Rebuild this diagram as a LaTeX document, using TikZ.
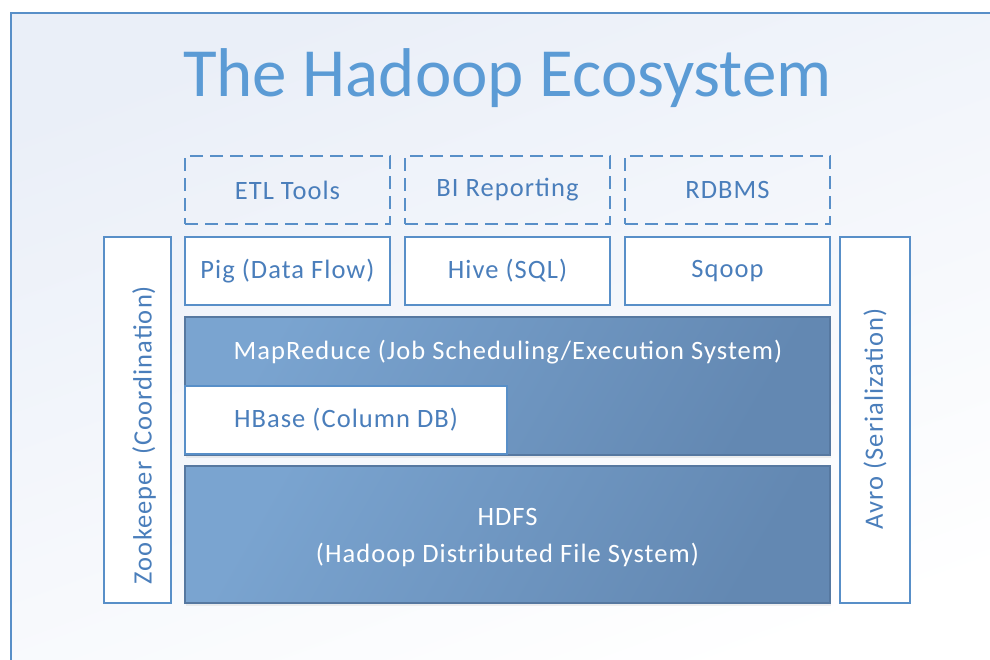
\documentclass[tikz,border=0pt]{standalone}
\usepackage{fontspec}
\setmainfont{Carlito}
\newfontfamily\boxfont[LetterSpace=4]{Carlito}
\usetikzlibrary{shadows}
\definecolor{frameblue}{RGB}{88,143,200}
\definecolor{titleblue}{RGB}{91,155,213}
\definecolor{textblue}{RGB}{74,126,187}
\definecolor{darkfillA}{RGB}{122,164,208}
\definecolor{darkfillB}{RGB}{99,136,178}
\definecolor{darkedge}{RGB}{86,120,160}
\definecolor{bgA}{RGB}{234,239,248}
\tikzset{
  boxtext/.style={font=\boxfont\fontsize{26.5}{30}\selectfont},
  lightbox/.style={draw=frameblue, line width=1.4pt, fill=white, text=textblue,
    boxtext, inner sep=0pt},
  dashbox/.style={lightbox, dash pattern=on 13pt off 7pt, fill=none},
  darkbox/.style={draw=darkedge, line width=1.2pt, left color=darkfillA, right color=darkfillB,
    shading angle=60, text=white, inner sep=0pt, boxtext,
    drop shadow={opacity=0.12, shadow xshift=1pt, shadow yshift=-3pt}},
  lbl/.style={text=textblue, boxtext, inner sep=0pt},
  wlbl/.style={text=white, boxtext, inner sep=0pt, align=center}
}
\begin{document}
\begin{tikzpicture}[x={(1pt,0)}, y={(0,-1pt)}]
\useasboundingbox (0,0) rectangle (990,659);
% backdrop frame with a soft gradient
\begin{scope}
\clip (0,0) rectangle (990,659);
\shade[top color=bgA, bottom color=white, shading angle=20] (11,13) rectangle (1010,680);
\draw[frameblue, line width=1.5pt] (11,680) -- (11,13) -- (1010,13);
\end{scope}
% title
\node[text=titleblue, font=\fontsize{69}{74}\selectfont, inner sep=0pt] (title) at (507.5,78) {The Hadoop Ecosystem};
% tools on top (dashed)
\node[dashbox, minimum width=205pt, minimum height=68pt] (etl) at (287.5,190) {ETL Tools};
\node[dashbox, minimum width=205pt, minimum height=68pt] (bi) at (507.5,190) {BI Reporting};
\node[dashbox, minimum width=205pt, minimum height=68pt] (rdbms) at (727.5,190) {RDBMS};
% high level tools
\node[lightbox, minimum width=205pt, minimum height=68pt] (pig) at (287.5,271) {Pig (Data Flow)};
\node[lightbox, minimum width=205pt, minimum height=68pt] (hive) at (507.5,271) {Hive (SQL)};
\node[lightbox, minimum width=205pt, minimum height=68pt] (sqoop) at (727.5,271) {Sqoop};
% side columns
\node[lightbox, minimum width=67pt, minimum height=366pt] (zk) at (137.5,420) {};
\node[lbl, rotate=90] (zklbl) at (144,435) {Zookeeper (Coordination)};
\node[lightbox, minimum width=70pt, minimum height=366pt] (avro) at (875,420) {};
\node[lbl, rotate=90] (avrolbl) at (875,419) {Avro (Serialization)};
% processing layer
\node[darkbox, minimum width=645pt, minimum height=138pt] (mr) at (507.5,386) {};
\node[wlbl] (mrlbl) at (508,352) {MapReduce (Job Scheduling/Execution System)};
\node[lightbox, line width=1.2pt, minimum width=322pt, minimum height=68pt] (hbase) at (346,420) {HBase (Column DB)};
% storage layer
\node[darkbox, minimum width=645pt, minimum height=137pt] (hdfs) at (507.5,534.5) {};
\node[wlbl] (hdfslbl) at (507.5,538) {HDFS\\[7pt](Hadoop Distributed File System)};
\end{tikzpicture}
\end{document}
